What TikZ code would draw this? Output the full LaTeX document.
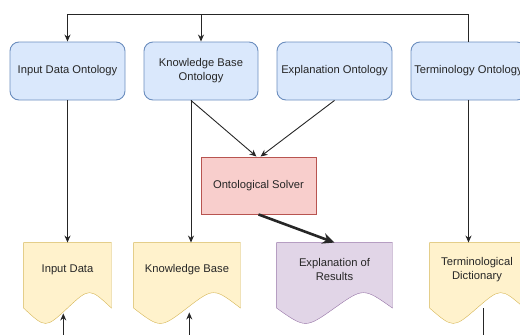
\documentclass[tikz,border=0pt]{standalone}
\usepackage{fontspec}
\setmainfont{Liberation Sans}
\usepackage{tikz}
\usetikzlibrary{calc,arrows.meta,backgrounds}
\definecolor{ontofill}{HTML}{DAE8FC}
\definecolor{ontoline}{HTML}{6C8EBF}
\definecolor{solvefill}{HTML}{F8CECC}
\definecolor{solveline}{HTML}{B85450}
\definecolor{datafill}{HTML}{FFF2CC}
\definecolor{dataline}{HTML}{D6B656}
\definecolor{resfill}{HTML}{E1D5E7}
\definecolor{resline}{HTML}{9673A6}

\begin{document}
\begin{tikzpicture}[x=1pt,y=-1pt,
    font=\fontsize{11.2}{14}\selectfont, color=black!85, line width=0.9pt,
    >={Stealth[length=7pt,width=6pt]},
    onto/.style={rectangle, rounded corners=9pt, fill=ontofill, draw=ontoline, minimum width=115, minimum height=58, inner sep=0pt, align=center},
    solve/.style={rectangle, fill=solvefill, draw=solveline, minimum width=115, minimum height=57, inner sep=0pt},
    doc/.style={rectangle, minimum height=53.2, inner sep=0pt, align=center},
    yellowdoc/.style={fill=datafill, draw=dataline},
    purpledoc/.style={fill=resfill, draw=resline}]
\useasboundingbox (0,0) rectangle (520,335);
\clip (0,0) rectangle (520,335);

\node[onto] (ido) at (67.5,71) {Input Data Ontology};
\node[onto, minimum width=114] (kbo) at (201,71) {Knowledge Base\\Ontology};
\node[onto] (exo) at (334.5,71) {Explanation Ontology};
\node[onto] (teo) at (468.5,71) {Terminology Ontology};
\node[solve] (solver) at (258.5,185.5) {Ontological Solver};

\node[doc, minimum width=87] (indata) at (67.5,269.6) {Input Data};
\node[doc, minimum width=106] (kb) at (187,269.6) {Knowledge Base};
\node[doc, minimum width=115] (results) at (334.5,269.6) {Explanation of\\Results};
\node[doc, minimum width=94] (termdict) at (477,269.6) {Terminological\\Dictionary};

\begin{scope}[on background layer]
  \foreach \d/\s in {indata/yellowdoc, kb/yellowdoc, results/purpledoc, termdict/yellowdoc}
    \draw[\s] (\d.north west) -- (\d.north east) -- ($(\d.south east)+(0,11.4)$)
      .. controls ($(\d.south west)!0.75!(\d.south east)+(0,-9.1)$) .. ($(\d.south)+(0,11.4)$)
      .. controls ($(\d.south west)!0.25!(\d.south east)+(0,31.9)$) .. ($(\d.south west)+(0,11.4)$) -- cycle;
\end{scope}

\coordinate (top) at (0,14);
\coordinate (kbo out) at ($(kbo.south)+(-10,0)$);
\draw[->] (teo.north) -- (teo.north |- top) -| (ido.north);
\draw[->] (kbo.north |- top) -- (kbo.north);

\draw[->] (kbo out) -- ([xshift=-2pt]solver.north);
\draw[->] (exo.south) -- ([xshift=2pt]solver.north);
\draw[->] (ido.south) -- (indata.north);
\draw[->] (kbo out) -- (kbo out |- kb.north);
\draw[->] (teo.south) -- (teo.south |- termdict.north);
\draw[->, line width=2.6pt, >={Stealth[length=12pt,width=11pt]}] (solver.south) -- (results.north);

\coordinate (indata in) at ($(indata.south)+(-4.2,16.8)$);
\coordinate (kb in) at ($(kb.south)+(2.3,15.8)$);
\coordinate (termdict out) at ($(termdict.south)+(6,11.8)$);
\draw[->] (indata in |- 0,340) -- (indata in);
\draw[->] (kb in |- 0,340) -- (kb in);
\draw (termdict out) -- (termdict out |- 0,340);
\end{tikzpicture}
\end{document}
